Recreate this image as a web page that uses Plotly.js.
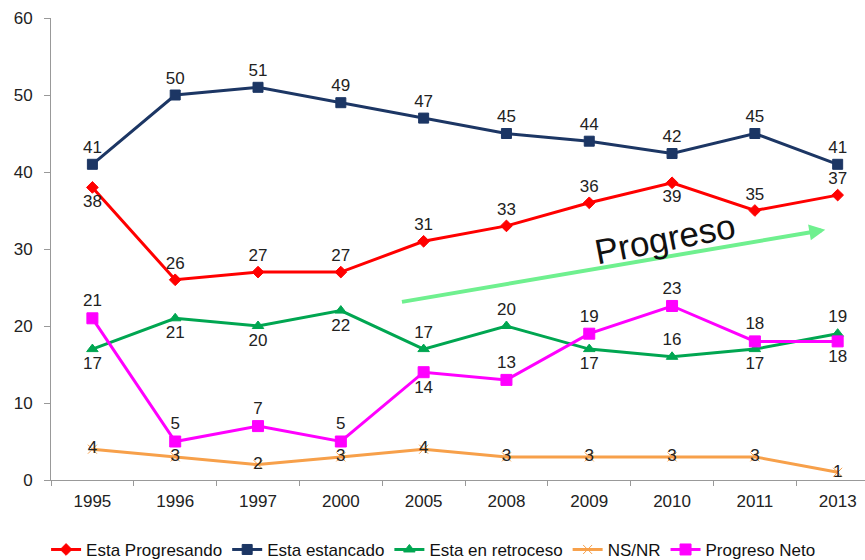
<!DOCTYPE html>
<html>
<head>
<meta charset="utf-8">
<script src="https://cdn.plot.ly/plotly-3.0.1.min.js"></script>
<style>
  body { margin: 0; background: #fff; }
  #myGraph { width: 865px; height: 560px; }
</style>
</head>
<body>
<div id="myGraph"></div>
<script>
// years on the x axis (categories)
const years = ["1995", "1996", "1997", "2000", "2005", "2008", "2009", "2010", "2011", "2013"];

// values
const progresando = [38, 26, 27, 27, 31, 33, 36, 38.6, 35, 37];
const progresandoLbl = ["38", "26", "27", "27", "31", "33", "36", "39", "35", "37"];
const estancado = [41, 50, 51, 49, 47, 45, 44, 42.4, 45, 41];
const estancadoLbl = ["41", "50", "51", "49", "47", "45", "44", "42", "45", "41"];
const retroceso = [17, 21, 20, 22, 17, 20, 17, 16, 17, 19];
const nsnr = [4, 3, 2, 3, 4, 3, 3, 3, 3, 1];
const neto = [21, 5, 7, 5, 14, 13, 19, 22.6, 18, 18];
const netoLbl = ["21", "5", "7", "5", "14", "13", "19", "23", "18", "18"];

// label positions per point
const posProgresando = ["bottom center", "top center", "top center", "top center", "top center", "top center", "top center", "bottom center", "top center", "top center"];
const posRetroceso = ["bottom center", "bottom center", "bottom center", "bottom center", "top center", "top center", "bottom center", "top center", "bottom center", "top center"];
const posNeto = ["top center", "top center", "top center", "top center", "bottom center", "top center", "top center", "top center", "top center", "bottom center"];

const labelFont = { family: "Liberation Sans, Arial, sans-serif", size: 17, color: "#222" };

function makeTrace(name, y, labels, pos, color, symbol, size) {
  return {
    x: years,
    y: y,
    name: name,
    type: "scatter",
    mode: "lines+markers+text",
    text: labels,
    textposition: pos,
    textfont: labelFont,
    line: { color: color, width: 3 },
    marker: { color: color, symbol: symbol, size: size, line: { color: color, width: 1 } },
    cliponaxis: false,
  };
}

const data = [
  makeTrace("Esta Progresando", progresando, progresandoLbl, posProgresando, "#ff0000", "diamond", 9),
  makeTrace("Esta estancado", estancado, estancadoLbl, "top center", "#1c3664", "square", 10),
  makeTrace("Esta en retroceso", retroceso, retroceso.map(String), posRetroceso, "#00a651", "triangle-up", 10),
  makeTrace("NS/NR", nsnr, nsnr.map(String), "middle center", "#f7a04a", "x-thin-open", 9),
  makeTrace("Progreso Neto", neto, netoLbl, posNeto, "#ff00ff", "square", 11),
];

const layout = {
  width: 865,
  height: 560,
  margin: { l: 51, r: 0, t: 18, b: 80, autoexpand: false },
  paper_bgcolor: "#fff",
  plot_bgcolor: "#fff",
  font: { family: "Liberation Sans, Arial, sans-serif", size: 17, color: "#222" },
  showlegend: true,
  legend: {
    orientation: "h",
    x: 0.47,
    xanchor: "center",
    yref: "container",
    y: 0.018,
    yanchor: "middle",
    font: { size: 17, color: "#111" },
    itemwidth: 30,
    tracegroupgap: 0,
  },
  xaxis: {
    type: "category",
    range: [-0.5, 9.33],
    showgrid: false,
    showline: true,
    linecolor: "#999",
    linewidth: 1,
    ticks: "outside",
    tickson: "boundaries",
    ticklen: 5,
    tickcolor: "#999",
    ticklabelstandoff: 6,
    tickfont: { size: 17 },
    zeroline: false,
  },
  yaxis: {
    range: [0, 60],
    dtick: 10,
    showgrid: false,
    showline: true,
    linecolor: "#999",
    linewidth: 1,
    ticks: "outside",
    ticklen: 6,
    tickcolor: "#999",
    ticklabelstandoff: 8,
    tickfont: { size: 17 },
    zeroline: false,
  },
  annotations: [
    {
      x: 8.85, y: 32.5, xref: "x", yref: "y",
      ax: 3.72, ay: 23.1, axref: "x", ayref: "y",
      showarrow: true, arrowhead: 2, arrowsize: 0.8, arrowwidth: 4,
      arrowcolor: "#6ff08f", text: "",
    },
    {
      x: 6.92, y: 31.3, xref: "x", yref: "y",
      text: "Progreso", showarrow: false, textangle: -11,
      font: { family: "Liberation Sans, Arial, sans-serif", size: 35, color: "#111" },
    },
  ],
};

Plotly.newPlot("myGraph", data, layout, { displayModeBar: false, staticPlot: true });
</script>
</body>
</html>
